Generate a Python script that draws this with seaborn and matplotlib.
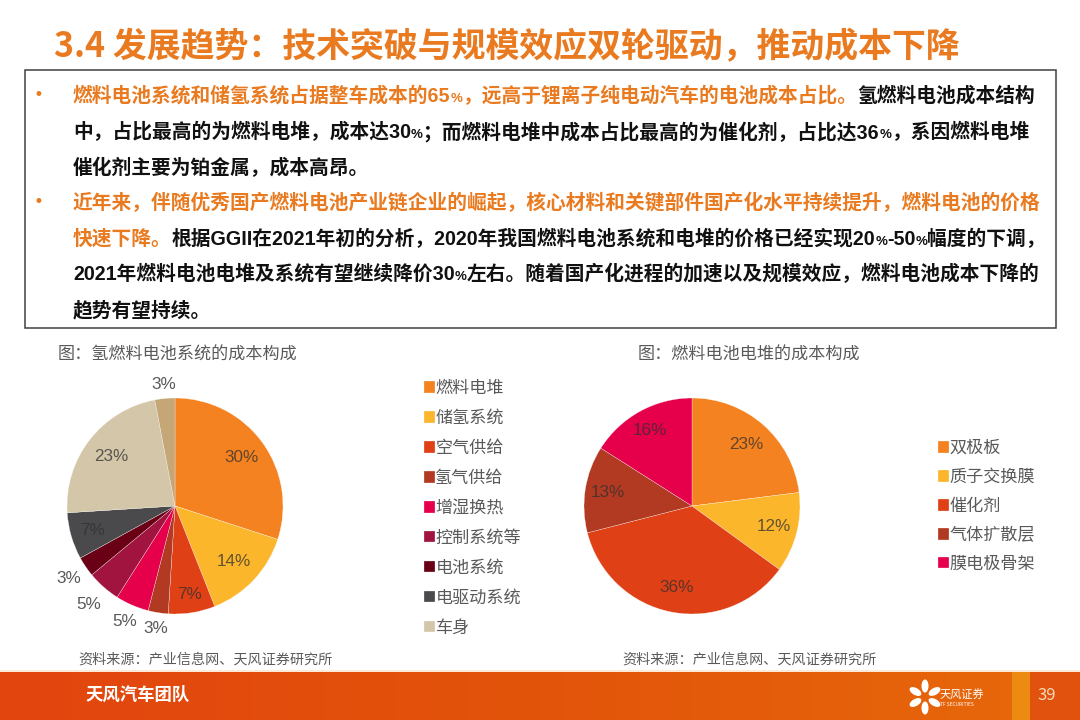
import re
import numpy as np
import matplotlib
matplotlib.use("Agg")
import matplotlib.pyplot as plt
from matplotlib.colors import LinearSegmentedColormap
from matplotlib.patches import Ellipse, Rectangle
import seaborn as sns

# left pie: hydrogen fuel cell system
system_parts = ['燃料电堆', '储氢系统', '空气供给', '氢气供给', '增湿换热', '控制系统等', '电池系统', '电驱动系统', '车身', '其他']
system_values = [30, 14, 7, 3, 5, 5, 3, 7, 23, 3]
system_colors = ['#F58220', '#FBB62C', '#E04016', '#B23A22', '#E6004C', '#A0143F', '#6A0015', '#4A4A4C', '#D4C6A8', '#C5A676']
system_dist = [0.76, 0.75, 0.83, 1.15, 1.17, 1.21, 1.19, 0.80, 0.75, 1.13]

# right pie: fuel cell stack
stack_parts = ['双极板', '质子交换膜', '催化剂', '气体扩散层', '膜电极骨架']
stack_values = [23, 12, 36, 13, 16]
stack_colors = ['#F58220', '#FBB62C', '#E04016', '#B23A22', '#E6004C']
stack_dist = [0.76, 0.78, 0.77, 0.79, 0.80]

title = '3.4 发展趋势：技术突破与规模效应双轮驱动，推动成本下降'
body_lines = [
    [('燃料电池系统和储氢系统占据整车成本的65%，远高于锂离子纯电动汽车的电池成本占比。', 'o'), ('氢燃料电池成本结构', 'k')],
    [('中，占比最高的为燃料电堆，成本达30%；而燃料电堆中成本占比最高的为催化剂，占比达36%，系因燃料电堆', 'k')],
    [('催化剂主要为铂金属，成本高昂。', 'k')],
    [('近年来，伴随优秀国产燃料电池产业链企业的崛起，核心材料和关键部件国产化水平持续提升，燃料电池的价格', 'o')],
    [('快速下降。', 'o'), ('根据GGII在2021年初的分析，2020年我国燃料电池系统和电堆的价格已经实现20%-50%幅度的下调，', 'k')],
    [('2021年燃料电池电堆及系统有望继续降价30%左右。随着国产化进程的加速以及规模效应，燃料电池成本下降的', 'k')],
    [('趋势有望持续。', 'k')],
]
body_y = [102, 138, 174, 209, 245, 280, 316]

ORANGE = '#E97A1F'
GRAY = '#595959'
BODY_FONT = ['Liberation Sans', 'Noto Sans CJK SC']

sns.set_theme(style="white")
plt.rcParams['font.family'] = ['Noto Sans CJK SC', 'DejaVu Sans']

fig = plt.figure(figsize=(10.8, 7.2), dpi=100)
bg = fig.add_axes([0, 0, 1, 1], zorder=0)
bg.set_xlim(0, 1080)
bg.set_ylim(720, 0)
bg.axis('off')

bg.text(54, 47, title, fontsize=24.4, color=ORANGE, va='center', fontweight='bold')
bg.add_patch(Rectangle((25, 70), 1031, 258, fill=False, edgecolor='#404040', lw=1.1))

fig.canvas.draw()
renderer = fig.canvas.get_renderer()
run_colors = {'o': ORANGE, 'k': '#111111'}
for y, runs in zip(body_y, body_lines):
    x = 73
    for chunk, c in runs:
        # the percent signs are set smaller in the slide
        for piece in re.split('(%)', chunk):
            if not piece:
                continue
            size = 9.5 if piece == '%' else 14.2
            t = bg.text(x, y, piece, fontsize=size, color=run_colors[c], va='baseline',
                        fontweight='bold', family=BODY_FONT)
            x += t.get_window_extent(renderer).width
for y in (body_y[0], body_y[3]):
    bg.text(38, y - 7, '•', fontsize=12, color=ORANGE, va='center', ha='center', family='DejaVu Sans')

bg.text(58, 355, '图：氢燃料电池系统的成本构成', fontsize=12.3, color=GRAY, va='center')
bg.text(638, 355, '图：燃料电池电堆的成本构成', fontsize=12.3, color=GRAY, va='center')
bg.text(78, 660, '资料来源：产业信息网、天风证券研究所', fontsize=10.15, color=GRAY, va='center')
bg.text(622, 660, '资料来源：产业信息网、天风证券研究所', fontsize=10.15, color=GRAY, va='center')

# footer band
cmap = LinearSegmentedColormap.from_list('footer', ['#E2450F', '#E2540A', '#E8690A'])
grad = np.linspace(0, 1, 256).reshape(1, -1)
bg.imshow(grad, cmap=cmap, extent=(0, 1080, 720, 672), aspect='auto', zorder=1)
bg.set_xlim(0, 1080)
bg.set_ylim(720, 0)
bg.add_patch(Rectangle((0, 670), 1080, 2, color='#FBEBD8', lw=0, zorder=1))
bg.add_patch(Rectangle((1012, 672), 18, 48, color='#EC8A12', lw=0, zorder=2))
bg.add_patch(Rectangle((1030, 672), 50, 48, color='#E0520E', lw=0, zorder=2))
bg.text(85, 695, '天风汽车团队', fontsize=12.5, color='white', va='center', fontweight='bold', zorder=3)
bg.text(1047, 696, '39', fontsize=12, color='#F8D9B8', va='center', ha='center', zorder=3)
for a in (-60, 0, 60, 120, 180, 240):
    ex = 925 + 11 * np.sin(np.radians(a))
    ey = 697 - 11 * np.cos(np.radians(a))
    bg.add_patch(Ellipse((ex, ey), 7, 13, angle=a, color='white', lw=0, zorder=3))
bg.text(940, 694, '天风证券', fontsize=8, color='white', va='center', zorder=3)
bg.text(940, 705, 'TF SECURITIES', fontsize=3.5, color='white', va='center', zorder=3)


def draw_pie(cx, cy, values, colors, dist):
    # axes is 270px wide so radius 1 comes out at 108px
    ax = fig.add_axes([(cx - 135) / 1080, (720 - cy - 135) / 720, 270 / 1080, 270 / 720], zorder=2)
    palette = sns.color_palette(colors)
    wedges, _ = ax.pie(values, colors=palette, startangle=90, counterclock=False,
                       wedgeprops={'edgecolor': 'white', 'linewidth': 0.2})
    ax.set_xlim(-1.25, 1.25)
    ax.set_ylim(-1.25, 1.25)
    for w, v, d in zip(wedges, values, dist):
        mid = np.radians((w.theta1 + w.theta2) / 2)
        c = '#595959' if d > 1 else '#303030'
        ax.text(d * np.cos(mid), d * np.sin(mid), f'{v}%', fontsize=12.3, ha='center', va='center',
                color=c, alpha=1 if d > 1 else 0.75, family='Liberation Sans', clip_on=False)
    return wedges


def draw_legend(wedges, labels, x, y, spacing):
    fig.legend(wedges, labels, loc='upper left', bbox_to_anchor=(x / 1080, 1 - y / 720), frameon=False,
               fontsize=12.3, labelcolor=GRAY, handlelength=0.65, handleheight=0.65, handletextpad=0.02,
               labelspacing=spacing, borderpad=0, borderaxespad=0)


sys_wedges = draw_pie(175, 506, system_values, system_colors, system_dist)
draw_legend(sys_wedges[:9], system_parts[:9], 424, 379, 0.70)
stack_wedges = draw_pie(692, 506, stack_values, stack_colors, stack_dist)
draw_legend(stack_wedges, stack_parts, 938, 439, 0.64)

plt.savefig('out.png', dpi=100)
